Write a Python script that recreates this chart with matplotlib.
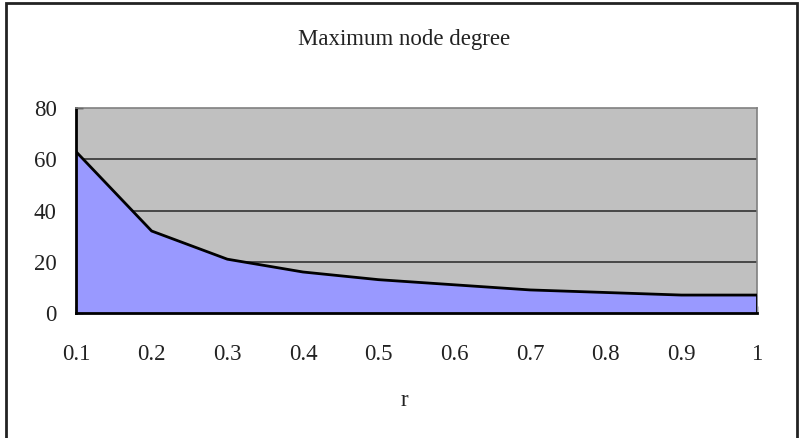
import numpy as np
import matplotlib
matplotlib.use("Agg")
from matplotlib import pyplot as plt
from matplotlib.patches import Rectangle

# data
r_labels = ["0.1", "0.2", "0.3", "0.4", "0.5", "0.6", "0.7", "0.8", "0.9", "1"]
max_degree = [63, 32, 21, 16, 13, 11, 9, 8, 7, 7]
y_ticks = [0, 20, 40, 60, 80]

plt.rcParams['font.family'] = ['Liberation Serif', 'DejaVu Serif']

fig = plt.figure(figsize=(8.08, 4.38), dpi=100)
# outer chart frame (bottom edge is cut off in the original)
fig.patches.append(Rectangle((6 / 808, -0.05), 791 / 808, 1.05 - 3 / 438,
                             transform=fig.transFigure, fill=False,
                             edgecolor='#222222', linewidth=2))

ax = fig.add_axes([0.094, 0.2854, 0.843, 0.468])
ax.set_facecolor('#C0C0C0')
x = np.arange(len(r_labels))

ax.fill_between(x, 0, max_degree, color='#9999FF', zorder=2)
ax.plot(x, max_degree, color='black', linewidth=2, zorder=3)
ax.plot([x[-1], x[-1]], [0, max_degree[-1]], color='black', linewidth=2, zorder=3)

for yv in y_ticks[1:-1]:
    ax.axhline(yv, color='#333333', linewidth=1.2, zorder=1)

ax.set_xlim(x[0], x[-1])
ax.set_ylim(0, 80)
ax.set_xticks(x)
ax.set_xticklabels(r_labels)
ax.set_yticks(y_ticks)
ax.tick_params(direction='in', length=5, width=1, labelsize=16.5, colors='black')
ax.tick_params(axis='x', pad=22)
ax.tick_params(axis='y', pad=14)
for lbl in ax.get_xticklabels() + ax.get_yticklabels():
    lbl.set_color('#222222')

ax.spines['left'].set_linewidth(2)
ax.spines['bottom'].set_linewidth(2)
ax.spines['top'].set_color('#808080')
ax.spines['right'].set_color('#808080')
ax.spines['top'].set_linewidth(1.2)
ax.spines['right'].set_linewidth(1.2)

fig.text(0.5, 1 - 40 / 438, "Maximum node degree", ha='center', va='center',
         fontsize=16.5, color='#222222')
fig.text(0.5, 1 - 400 / 438, "r", ha='center', va='center', fontsize=16.5, color='#222222')

fig.savefig("out.png", dpi=100)
